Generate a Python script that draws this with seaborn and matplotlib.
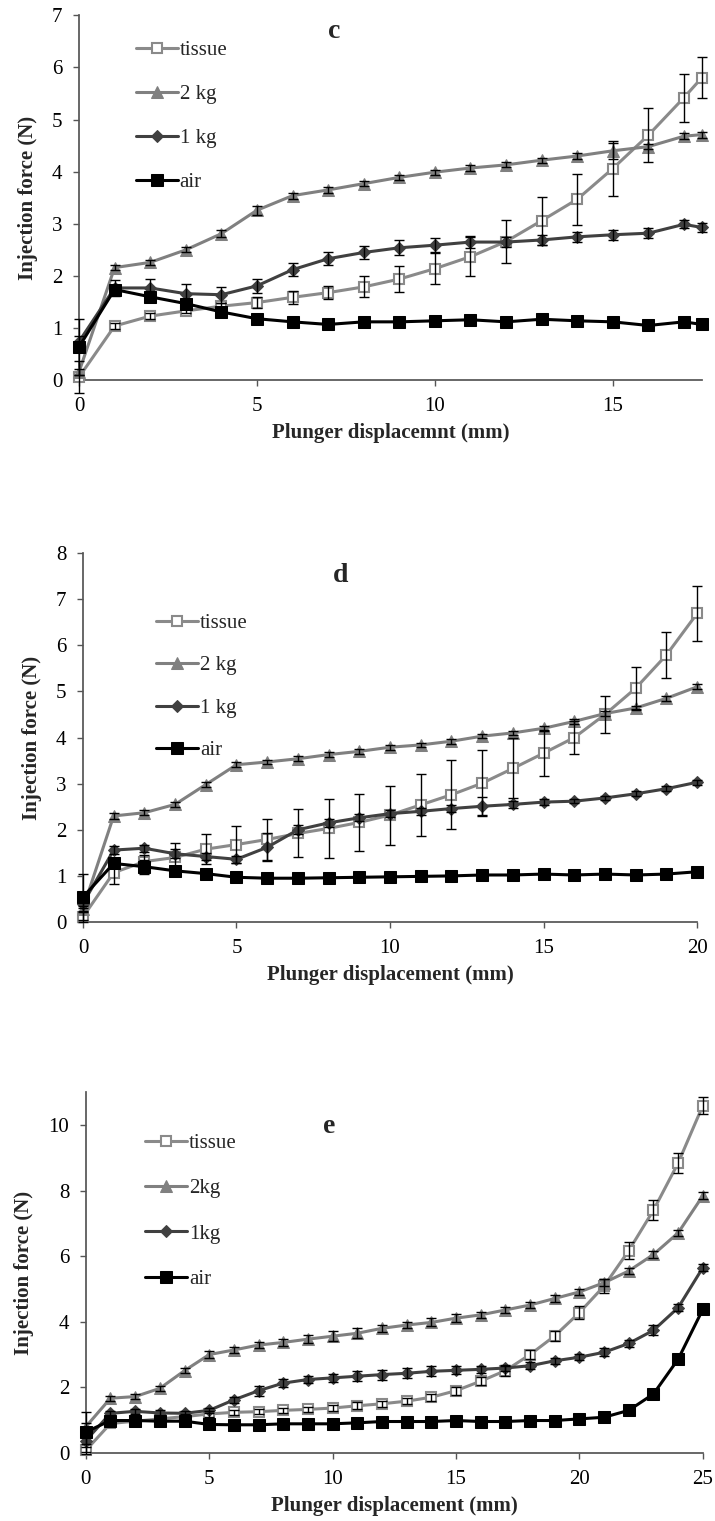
import numpy as np
import pandas as pd
import matplotlib
matplotlib.use("Agg")
import matplotlib.pyplot as plt
import seaborn as sns

# ---------------- data ----------------
# panel c
c_x = [0, 1, 2, 3, 4, 5, 6, 7, 8, 9, 10, 11, 12, 13, 14, 15, 16, 17, 17.5]
c_tissue = [0.06, 1.04, 1.23, 1.33, 1.42, 1.49, 1.59, 1.68, 1.79, 1.94, 2.14, 2.37, 2.66, 3.06, 3.47, 4.06, 4.70, 5.42, 5.80]
c_tissue_err = [0.3, 0.06, 0.06, 0.05, 0.06, 0.1, 0.13, 0.13, 0.2, 0.25, 0.3, 0.37, 0.42, 0.46, 0.49, 0.53, 0.52, 0.46, 0.39]
c_2kg = [0.16, 2.16, 2.26, 2.50, 2.81, 3.26, 3.54, 3.65, 3.77, 3.89, 3.99, 4.07, 4.13, 4.22, 4.30, 4.40, 4.48, 4.68, 4.71]
c_2kg_err = [0.05, 0.05, 0.05, 0.05, 0.07, 0.09, 0.06, 0.05, 0.05, 0.05, 0.05, 0.05, 0.05, 0.05, 0.05, 0.15, 0.05, 0.06, 0.06]
c_1kg = [0.74, 1.77, 1.77, 1.66, 1.64, 1.81, 2.12, 2.33, 2.45, 2.54, 2.59, 2.65, 2.65, 2.69, 2.75, 2.79, 2.82, 2.99, 2.93]
c_1kg_err = [0.1, 0.16, 0.17, 0.18, 0.15, 0.13, 0.13, 0.12, 0.13, 0.14, 0.13, 0.12, 0.1, 0.1, 0.1, 0.1, 0.1, 0.08, 0.08]
c_air = [0.64, 1.74, 1.60, 1.47, 1.31, 1.18, 1.12, 1.07, 1.12, 1.12, 1.14, 1.16, 1.12, 1.17, 1.14, 1.12, 1.05, 1.12, 1.07]
c_air_err = [0.53, 0.05, 0.03, 0.03, 0.03, 0.03, 0.02, 0.02, 0.02, 0.02, 0.02, 0.02, 0.02, 0.02, 0.02, 0.02, 0.02, 0.02, 0.02]

# panel d
d_x = list(range(0, 21))
d_tissue = [0.11, 1.07, 1.31, 1.40, 1.58, 1.68, 1.79, 1.92, 2.03, 2.16, 2.32, 2.54, 2.76, 3.01, 3.33, 3.66, 4.00, 4.50, 5.07, 5.79, 6.69]
d_tissue_err = [0.1, 0.25, 0.15, 0.32, 0.33, 0.4, 0.45, 0.52, 0.64, 0.61, 0.64, 0.68, 0.75, 0.72, 0.65, 0.5, 0.35, 0.4, 0.45, 0.49, 0.6]
d_2kg = [0.29, 2.30, 2.37, 2.55, 2.98, 3.41, 3.47, 3.54, 3.63, 3.70, 3.79, 3.84, 3.92, 4.03, 4.10, 4.20, 4.35, 4.52, 4.64, 4.85, 5.10]
d_2kg_err = [0.05, 0.06, 0.05, 0.05, 0.06, 0.05, 0.05, 0.05, 0.05, 0.05, 0.05, 0.05, 0.05, 0.05, 0.05, 0.05, 0.05, 0.05, 0.05, 0.05, 0.05]
d_1kg = [0.40, 1.56, 1.60, 1.48, 1.42, 1.36, 1.62, 2.00, 2.15, 2.26, 2.35, 2.40, 2.46, 2.51, 2.55, 2.60, 2.62, 2.69, 2.78, 2.89, 3.03]
d_1kg_err = [0.1, 0.08, 0.08, 0.1, 0.08, 0.08, 0.3, 0.1, 0.08, 0.08, 0.08, 0.08, 0.08, 0.2, 0.08, 0.06, 0.05, 0.05, 0.05, 0.05, 0.05]
d_air = [0.54, 1.27, 1.20, 1.11, 1.05, 0.97, 0.95, 0.95, 0.96, 0.97, 0.98, 0.99, 1.00, 1.02, 1.02, 1.04, 1.02, 1.04, 1.02, 1.04, 1.09]
d_air_err = [0.5, 0.08, 0.15, 0.05, 0.03, 0.03, 0.02, 0.02, 0.02, 0.02, 0.02, 0.02, 0.02, 0.02, 0.02, 0.02, 0.02, 0.02, 0.02, 0.02, 0.02]

# panel e
e_x = list(range(0, 26))
e_tissue = [0.08, 0.90, 0.97, 1.04, 1.11, 1.19, 1.24, 1.26, 1.30, 1.33, 1.37, 1.44, 1.50, 1.58, 1.70, 1.90, 2.19, 2.51, 3.00, 3.57, 4.28, 5.09, 6.17, 7.40, 8.84, 10.59]
e_tissue_err = [0.1, 0.08, 0.08, 0.08, 0.08, 0.08, 0.08, 0.08, 0.08, 0.08, 0.1, 0.1, 0.1, 0.1, 0.1, 0.12, 0.12, 0.15, 0.15, 0.15, 0.2, 0.22, 0.25, 0.3, 0.3, 0.25]
e_2kg = [0.80, 1.67, 1.72, 1.97, 2.51, 3.00, 3.14, 3.29, 3.37, 3.47, 3.56, 3.65, 3.80, 3.90, 3.98, 4.11, 4.21, 4.36, 4.51, 4.71, 4.91, 5.19, 5.55, 6.05, 6.71, 7.84]
e_2kg_err = [0.1, 0.08, 0.08, 0.08, 0.08, 0.1, 0.1, 0.1, 0.1, 0.12, 0.15, 0.15, 0.1, 0.1, 0.12, 0.12, 0.1, 0.1, 0.1, 0.1, 0.1, 0.1, 0.1, 0.1, 0.1, 0.1]
e_1kg = [0.38, 1.21, 1.27, 1.22, 1.21, 1.30, 1.62, 1.90, 2.13, 2.24, 2.29, 2.34, 2.39, 2.43, 2.49, 2.52, 2.55, 2.59, 2.66, 2.81, 2.92, 3.07, 3.34, 3.74, 4.43, 5.65]
e_1kg_err = [0.1, 0.08, 0.08, 0.08, 0.08, 0.08, 0.1, 0.15, 0.12, 0.12, 0.12, 0.15, 0.15, 0.15, 0.15, 0.12, 0.1, 0.1, 0.1, 0.1, 0.1, 0.12, 0.1, 0.15, 0.1, 0.1]
e_air = [0.64, 0.99, 0.99, 0.97, 0.97, 0.87, 0.86, 0.86, 0.89, 0.89, 0.89, 0.92, 0.96, 0.96, 0.96, 0.99, 0.96, 0.96, 0.99, 0.99, 1.04, 1.09, 1.30, 1.80, 2.86, 4.38]
e_air_err = [0.6, 0.03, 0.03, 0.03, 0.03, 0.03, 0.03, 0.03, 0.03, 0.03, 0.03, 0.03, 0.03, 0.03, 0.03, 0.03, 0.03, 0.03, 0.03, 0.03, 0.03, 0.03, 0.03, 0.05, 0.05, 0.05]

c_labels = ["tissue", "2 kg", "1 kg", "air"]
d_labels = ["tissue", "2 kg", "1 kg", "air"]
e_labels = ["tissue", "2kg", "1kg", "air"]

# ---------------- style ----------------
sns.set_theme(style="ticks")
plt.rcParams["font.family"] = ["Liberation Serif", "DejaVu Serif"]
plt.rcParams["axes.edgecolor"] = "#555555"
plt.rcParams["xtick.color"] = "#555555"
plt.rcParams["ytick.color"] = "#555555"
plt.rcParams["xtick.labelcolor"] = "black"
plt.rcParams["ytick.labelcolor"] = "black"

styles = [
    dict(color="#8a8a8a", marker="s", markersize=7, markerfacecolor="white",
         markeredgecolor="#8a8a8a", markeredgewidth=1.5),
    dict(color="#808080", marker="^", markersize=8, markerfacecolor="#808080",
         markeredgecolor="#808080"),
    dict(color="#404040", marker="D", markersize=6, markerfacecolor="#404040",
         markeredgecolor="#404040"),
    dict(color="#000000", marker="s", markersize=8, markerfacecolor="#000000",
         markeredgecolor="#000000"),
]

fig = plt.figure(figsize=(7.15, 15.21), dpi=100)

panels = [
    dict(rect=[0.1105, 0.750, 0.871, 0.240], x=c_x,
         ys=[c_tissue, c_2kg, c_1kg, c_air],
         errs=[c_tissue_err, c_2kg_err, c_1kg_err, c_air_err],
         labels=c_labels, xlim=(0, 17.5), ylim=(0, 7), yticks=list(range(0, 8)),
         xticks=[0, 5, 10, 15], letter="c", letter_pos=(0.41, 0.955),
         xlabel="Plunger displacemnt (mm)", leg_anchor=(0.078, 0.953), lsp=1.17),
    dict(rect=[0.116, 0.3938, 0.859, 0.2426], x=d_x,
         ys=[d_tissue, d_2kg, d_1kg, d_air],
         errs=[d_tissue_err, d_2kg_err, d_1kg_err, d_air_err],
         labels=d_labels, xlim=(0, 20), ylim=(0, 8), yticks=list(range(0, 9)),
         xticks=[0, 5, 10, 15, 20], letter="d", letter_pos=(0.42, 0.94),
         xlabel="Plunger displacement (mm)", leg_anchor=(0.106, 0.859), lsp=1.1),
    dict(rect=[0.120, 0.0447, 0.863, 0.2373], x=e_x,
         ys=[e_tissue, e_2kg, e_1kg, e_air],
         errs=[e_tissue_err, e_2kg_err, e_1kg_err, e_air_err],
         labels=e_labels, xlim=(0, 25), ylim=(0, 11), yticks=[0, 2, 4, 6, 8, 10],
         xticks=[0, 5, 10, 15, 20, 25], letter="e", letter_pos=(0.395, 0.905),
         xlabel="Plunger displacement (mm)", leg_anchor=(0.083, 0.908), lsp=1.23),
]

for p in panels:
    ax = fig.add_axes(p["rect"])
    for y, err, lab, st in zip(p["ys"], p["errs"], p["labels"], styles):
        sns.lineplot(x=p["x"], y=y, ax=ax, label=lab, linewidth=2.2,
                     clip_on=False, zorder=3, **st)
        ax.errorbar(p["x"], y, yerr=err, fmt="none", ecolor="black",
                    elinewidth=1, capsize=3.5, capthick=1, zorder=4,
                    clip_on=False)
    ax.set_xlim(*p["xlim"])
    ax.set_ylim(*p["ylim"])
    ax.set_xticks(p["xticks"])
    ax.set_yticks(p["yticks"])
    ax.tick_params(axis="both", labelsize=15, length=4, width=1, direction="out")
    ax.tick_params(axis="x", pad=8)
    ax.tick_params(axis="y", pad=8)
    ax.set_xlabel(p["xlabel"], fontsize=15, fontweight="bold", labelpad=5)
    ax.set_ylabel("Injection force (N)", fontsize=15, fontweight="bold", labelpad=10)
    sns.despine(ax=ax)
    ax.text(p["letter_pos"][0], p["letter_pos"][1], p["letter"], transform=ax.transAxes,
            fontsize=20, fontweight="bold", ha="center", va="center")
    ax.legend(loc="upper left", bbox_to_anchor=p["leg_anchor"], frameon=False,
              fontsize=15, labelspacing=p["lsp"], handlelength=2.0, handletextpad=0.1,
              borderaxespad=0)

fig.savefig("out.png", dpi=100)
